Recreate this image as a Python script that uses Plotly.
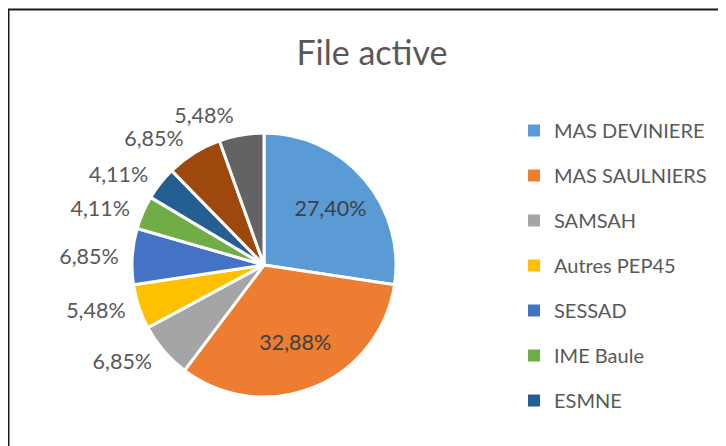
import plotly.graph_objects as go

# Data (counts out of 73, read from the percentages)
categories = ["MAS DEVINIERE", "MAS SAULNIERS", "SAMSAH", "Autres PEP45", "SESSAD",
              "IME Baule", "ESMNE", "Autres structures", "Non renseigné"]
values = [20, 24, 5, 4, 5, 3, 3, 5, 4]
colors = ["#5B9BD5", "#ED7D31", "#A5A5A5", "#FFC000", "#4472C4",
          "#70AD47", "#255E91", "#9E480E", "#636363"]
legend_count = 7  # the reference legend is cut after ESMNE
title_text = "File active"

PAGE_W, PAGE_H = 726, 446
OFF = 8  # default body margin of the page
W, H = PAGE_W - OFF, PAGE_H - OFF


def px(x):
    return (x - OFF) / W


def py(y):
    return 1 - (y - OFF) / H


FONT = "Lato"
TXT = "#595959"
PCT = "%{percent:.2%}"

big = [v >= 15 for v in values]
n = len(values)
clear = ["rgba(0,0,0,0)"] * n


def carrier(sel, position, r, font):
    cx, cy = 264, 265
    return go.Pie(
        labels=categories, values=values, sort=False, direction="clockwise", rotation=0,
        marker=dict(colors=clear, line=dict(width=0)),
        texttemplate=[PCT if i in sel else "" for i in range(n)],
        textposition=[position if i in sel else "none" for i in range(n)],
        insidetextorientation="horizontal",
        insidetextfont=font, outsidetextfont=font,
        domain=dict(x=[px(cx - r), px(cx + r)], y=[py(cy + r), py(cy - r)]),
        showlegend=False, hoverinfo="skip",
    )


fig = go.Figure()

# transparent label carriers for the outside labels (placed behind the pie)
small_idx = [i for i in range(n) if not big[i]]
out_font = dict(family=FONT, size=21.5, color=TXT)
for k in range(2):
    fig.add_trace(carrier(small_idx[k::2], "outside", 139, out_font))

fig.add_trace(go.Pie(
    labels=categories, values=values, sort=False, direction="clockwise", rotation=0,
    marker=dict(colors=colors, line=dict(color="white", width=3)),
    textinfo="none",
    domain=dict(x=[px(132), px(396)], y=[py(397), py(133)]),
    showlegend=False,
))

# inside labels (on top of the pie)
in_font = dict(family=FONT, size=21.5, color="#404040")
fig.add_trace(carrier([i for i in range(n) if big[i]], "inside", 154, in_font))

for i in range(legend_count):
    fig.add_trace(go.Scatter(
        x=[None], y=[None], mode="markers", name=categories[i],
        marker=dict(symbol="square", size=7, color=colors[i]),
        legendgroup=f"g{i}", showlegend=True,
    ))

fig.add_shape(type="rect", xref="paper", yref="paper",
              x0=px(8.5), x1=1.05, y0=-0.05, y1=py(9.5),
              line=dict(color="#1a1a1a", width=2), fillcolor="rgba(0,0,0,0)")

fig.update_layout(
    width=W, height=H,
    margin=dict(l=0, r=0, t=0, b=0),
    paper_bgcolor="white", plot_bgcolor="white",
    separators=", ",
    font=dict(family=FONT, color=TXT),
    title=dict(text=title_text, x=px(372), y=py(53), xanchor="center", yanchor="middle",
               xref="paper", yref="paper",
               font=dict(family=FONT, size=34, color=TXT)),
    xaxis=dict(visible=False), yaxis=dict(visible=False),
    legend=dict(x=px(514), y=py(111), xanchor="left", yanchor="top",
                font=dict(family=FONT, size=20, color=TXT),
                tracegroupgap=16, itemsizing="constant", bgcolor="rgba(0,0,0,0)"),
)

fig.write_html("out.html")
